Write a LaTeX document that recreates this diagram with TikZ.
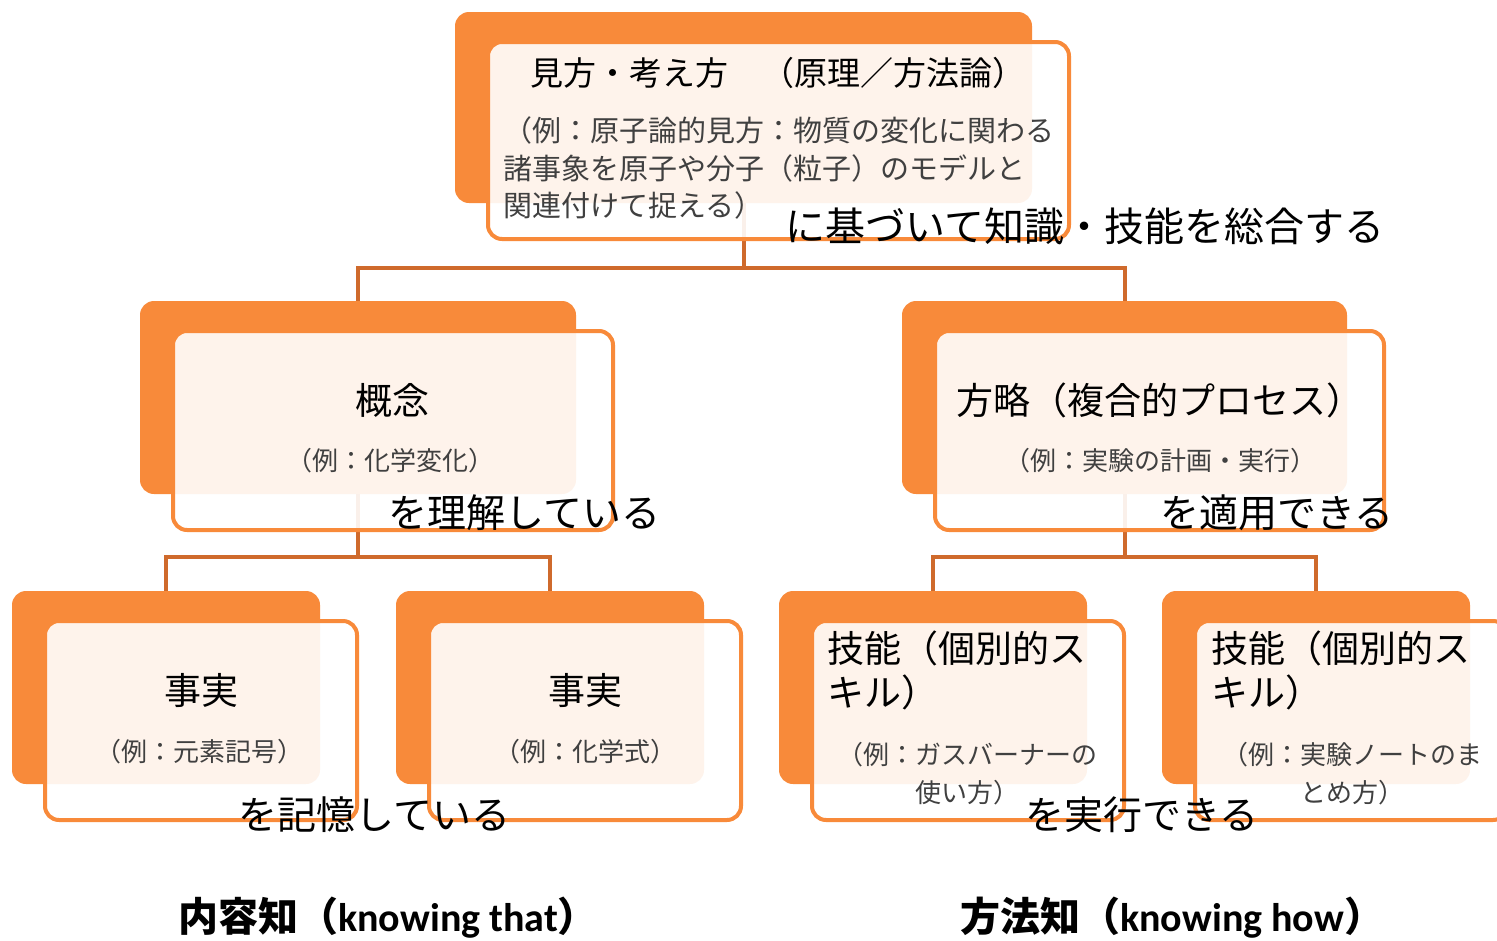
\documentclass[tikz,border=0pt]{standalone}
\usepackage{fontspec}
\setmainfont{Noto Sans CJK JP}
\newfontfamily\lat{Carlito}
\pgfdeclarelayer{bg}
\pgfsetlayers{bg,main}
\definecolor{org}{HTML}{F88A3A}
\definecolor{conc}{HTML}{CF6A2C}
\definecolor{exg}{HTML}{404040}
\tikzset{
  backbox/.style={draw=none, fill=org, rounded corners=14pt, inner sep=0pt, outer sep=0pt, anchor=north west},
  frontbox/.style={draw=org, line width=4pt, fill=white, fill opacity=0.9, rounded corners=14pt, inner sep=0pt, outer sep=0pt, anchor=north west},
  conn/.style={draw=conc, line width=4pt},
  ttl/.style={font=\fontsize{37}{44}\selectfont, text=black, inner sep=0pt},
  ex/.style={font=\fontsize{26}{38}\selectfont, text=exg, inner sep=0pt},
  verb/.style={font=\fontsize{39}{44}\selectfont, text=black, inner sep=0pt, anchor=west},
  cat/.style={font=\bfseries\fontsize{40}{44}\selectfont, text=black, inner sep=0pt, anchor=west},
}
\newcommand\mkpair[6]{%
  \node[backbox, minimum width=#5, minimum height=#6] (#1) at (#3,#4) {};
  \node[frontbox, minimum width=#5+4, minimum height=#6+6] (#2) at (#3+33,#4+30) {};
}
\begin{document}
\begin{tikzpicture}[x=1pt,y=-1pt]
\useasboundingbox (0,0) rectangle (1497,940);
% boxes
\mkpair{tb}{tf}{455}{12}{577}{191}
\mkpair{lb}{lf}{140}{301}{436}{193}
\mkpair{rb}{rf}{902}{301}{445}{193}
\mkpair{b1}{f1}{12}{591}{308}{193}
\mkpair{b2}{f2}{396}{591}{308}{193}
\mkpair{b3}{f3}{779}{591}{308}{193}
\mkpair{b4}{f4}{1162}{591}{308}{193}
% connectors
\coordinate (j0) at (0,268);
\coordinate (j1) at (0,557);
\begin{pgfonlayer}{bg}
\draw[conn] (tb.south) -- (tb.south |- j0) -| (lb.north);
\draw[conn] (tb.south |- j0) -| (rb.north);
\draw[conn] (lb.south) -- (lb.south |- j1) -| (b1.north);
\draw[conn] (lb.south |- j1) -| (b2.north);
\draw[conn] (rb.south) -- (rb.south |- j1) -| (b3.north);
\draw[conn] (rb.south |- j1) -| (b4.north);
\end{pgfonlayer}
% texts
\node[ttl, font=\fontsize{33}{40}\selectfont] (t0) at (778,73) {見方・考え方　（原理／方法論）};
\node[ex, font=\fontsize{29}{37.5}\selectfont, align=left, anchor=west] (e0) at (503,168) {（例：原子論的見方：物質の変化に関わる\\諸事象を原子や分子（粒子）のモデルと\\関連付けて捉える）};
\node[verb, font=\fontsize{40}{44}\selectfont] (v0) at (785,226) {に基づいて知識・技能を総合する};

\node[ttl] (t1) at (392,400) {概念};
\node[ex] (e1) at (390,461) {（例：化学変化）};
\node[verb] (v1) at (388,513) {を理解している};

\node[ttl] (t2) at (1160,400) {方略（複合的プロセス）};
\node[ex] (e2) at (1160,461) {（例：実験の計画・実行）};
\node[verb] (v2) at (1160,513) {を適用できる};

\node[ttl] (t3) at (201,690) {事実};
\node[ex] (e3) at (199,752) {（例：元素記号）};
\node[ttl] (t4) at (585,690) {事実};
\node[ex] (e4) at (585,752) {（例：化学式）};
\node[verb] (v3) at (238,815) {を記憶している};

\node[ttl, align=left, anchor=west] (t5) at (827,670) {技能（個別的ス\\キル）};
\node[ex, align=center] (e5) at (967,774) {（例：ガスバーナーの\\使い方）};
\node[ttl, align=left, anchor=west] (t6) at (1211,670) {技能（個別的ス\\キル）};
\node[ex, align=center] (e6) at (1352,774) {（例：実験ノートのま\\とめ方）};
\node[verb] (v4) at (1025,815) {を実行できる};

\node[cat] (c1) at (178,918) {内容知（{\lat knowing that}）};
\node[cat] (c2) at (960,918) {方法知（{\lat knowing how}）};
\end{tikzpicture}
\end{document}
